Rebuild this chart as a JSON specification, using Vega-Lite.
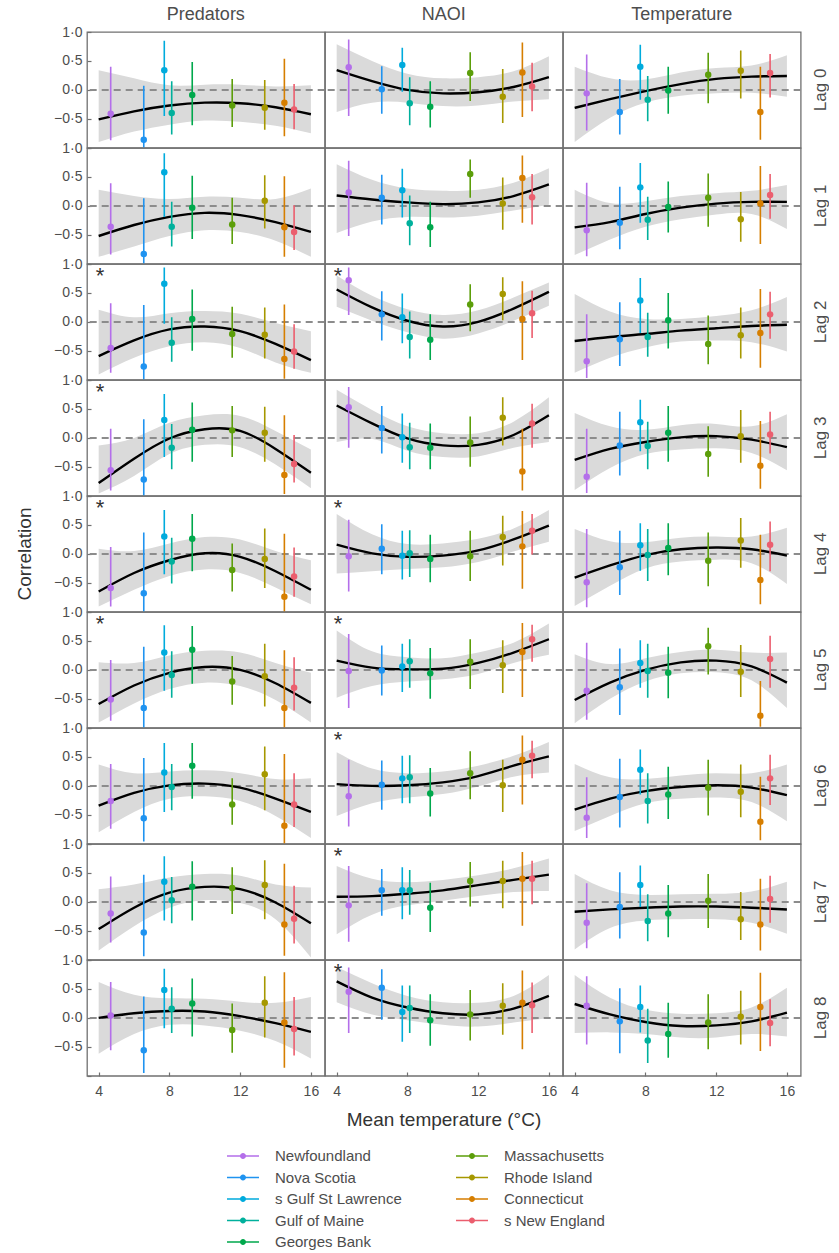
{
  "$schema": "https://vega.github.io/schema/vega-lite/v6.json",
  "padding": {"left": 15, "top": 6, "right": 0, "bottom": 0},
  "bounds": "flush",
  "data": {
    "values": [
      {"kind":"star","var":"Predators","lag":"Lag 2"},
      {"kind":"star","var":"Predators","lag":"Lag 3"},
      {"kind":"star","var":"Predators","lag":"Lag 4"},
      {"kind":"star","var":"Predators","lag":"Lag 5"},
      {"kind":"star","var":"NAOI","lag":"Lag 2"},
      {"kind":"star","var":"NAOI","lag":"Lag 4"},
      {"kind":"star","var":"NAOI","lag":"Lag 5"},
      {"kind":"star","var":"NAOI","lag":"Lag 6"},
      {"kind":"star","var":"NAOI","lag":"Lag 7"},
      {"kind":"star","var":"NAOI","lag":"Lag 8"},

      {"kind":"fit","var":"Predators","lag":"Lag 0","temp":4,"fit":-0.51,"flo":-0.90,"fhi":0.34},
      {"kind":"fit","var":"Predators","lag":"Lag 0","temp":6,"fit":-0.37,"flo":-0.72,"fhi":0.20},
      {"kind":"fit","var":"Predators","lag":"Lag 0","temp":8,"fit":-0.27,"flo":-0.60,"fhi":0.08},
      {"kind":"fit","var":"Predators","lag":"Lag 0","temp":10,"fit":-0.22,"flo":-0.53,"fhi":0.09},
      {"kind":"fit","var":"Predators","lag":"Lag 0","temp":12,"fit":-0.23,"flo":-0.55,"fhi":0.09},
      {"kind":"fit","var":"Predators","lag":"Lag 0","temp":14,"fit":-0.30,"flo":-0.62,"fhi":0.06},
      {"kind":"fit","var":"Predators","lag":"Lag 0","temp":16,"fit":-0.42,"flo":-0.75,"fhi":0.08},
      {"kind":"fit","var":"NAOI","lag":"Lag 0","temp":4,"fit":0.34,"flo":-0.38,"fhi":0.79},
      {"kind":"fit","var":"NAOI","lag":"Lag 0","temp":6,"fit":0.15,"flo":-0.22,"fhi":0.50},
      {"kind":"fit","var":"NAOI","lag":"Lag 0","temp":8,"fit":0.0,"flo":-0.22,"fhi":0.28},
      {"kind":"fit","var":"NAOI","lag":"Lag 0","temp":10,"fit":-0.06,"flo":-0.28,"fhi":0.20},
      {"kind":"fit","var":"NAOI","lag":"Lag 0","temp":12,"fit":-0.04,"flo":-0.27,"fhi":0.22},
      {"kind":"fit","var":"NAOI","lag":"Lag 0","temp":14,"fit":0.05,"flo":-0.20,"fhi":0.32},
      {"kind":"fit","var":"NAOI","lag":"Lag 0","temp":16,"fit":0.22,"flo":-0.16,"fhi":0.58},
      {"kind":"fit","var":"Temperature","lag":"Lag 0","temp":4,"fit":-0.31,"flo":-0.90,"fhi":0.40},
      {"kind":"fit","var":"Temperature","lag":"Lag 0","temp":6,"fit":-0.16,"flo":-0.48,"fhi":0.20},
      {"kind":"fit","var":"Temperature","lag":"Lag 0","temp":8,"fit":-0.02,"flo":-0.22,"fhi":0.18},
      {"kind":"fit","var":"Temperature","lag":"Lag 0","temp":10,"fit":0.10,"flo":-0.10,"fhi":0.30},
      {"kind":"fit","var":"Temperature","lag":"Lag 0","temp":12,"fit":0.19,"flo":-0.06,"fhi":0.38},
      {"kind":"fit","var":"Temperature","lag":"Lag 0","temp":14,"fit":0.23,"flo":-0.05,"fhi":0.42},
      {"kind":"fit","var":"Temperature","lag":"Lag 0","temp":16,"fit":0.24,"flo":-0.12,"fhi":0.60},

      {"kind":"fit","var":"Predators","lag":"Lag 1","temp":4,"fit":-0.52,"flo":-0.88,"fhi":0.28},
      {"kind":"fit","var":"Predators","lag":"Lag 1","temp":6,"fit":-0.33,"flo":-0.70,"fhi":0.17},
      {"kind":"fit","var":"Predators","lag":"Lag 1","temp":8,"fit":-0.19,"flo":-0.52,"fhi":0.12},
      {"kind":"fit","var":"Predators","lag":"Lag 1","temp":10,"fit":-0.12,"flo":-0.42,"fhi":0.16},
      {"kind":"fit","var":"Predators","lag":"Lag 1","temp":12,"fit":-0.16,"flo":-0.45,"fhi":0.14},
      {"kind":"fit","var":"Predators","lag":"Lag 1","temp":14,"fit":-0.28,"flo":-0.60,"fhi":0.12},
      {"kind":"fit","var":"Predators","lag":"Lag 1","temp":16,"fit":-0.45,"flo":-0.88,"fhi":0.30},
      {"kind":"fit","var":"NAOI","lag":"Lag 1","temp":4,"fit":0.18,"flo":-0.47,"fhi":0.72},
      {"kind":"fit","var":"NAOI","lag":"Lag 1","temp":6,"fit":0.11,"flo":-0.27,"fhi":0.45},
      {"kind":"fit","var":"NAOI","lag":"Lag 1","temp":8,"fit":0.06,"flo":-0.19,"fhi":0.30},
      {"kind":"fit","var":"NAOI","lag":"Lag 1","temp":10,"fit":0.03,"flo":-0.20,"fhi":0.26},
      {"kind":"fit","var":"NAOI","lag":"Lag 1","temp":12,"fit":0.06,"flo":-0.17,"fhi":0.28},
      {"kind":"fit","var":"NAOI","lag":"Lag 1","temp":14,"fit":0.17,"flo":-0.08,"fhi":0.40},
      {"kind":"fit","var":"NAOI","lag":"Lag 1","temp":16,"fit":0.37,"flo":0.02,"fhi":0.65},
      {"kind":"fit","var":"Temperature","lag":"Lag 1","temp":4,"fit":-0.37,"flo":-0.85,"fhi":0.28},
      {"kind":"fit","var":"Temperature","lag":"Lag 1","temp":6,"fit":-0.28,"flo":-0.58,"fhi":0.05},
      {"kind":"fit","var":"Temperature","lag":"Lag 1","temp":8,"fit":-0.14,"flo":-0.36,"fhi":0.08},
      {"kind":"fit","var":"Temperature","lag":"Lag 1","temp":10,"fit":-0.03,"flo":-0.23,"fhi":0.17},
      {"kind":"fit","var":"Temperature","lag":"Lag 1","temp":12,"fit":0.04,"flo":-0.15,"fhi":0.22},
      {"kind":"fit","var":"Temperature","lag":"Lag 1","temp":14,"fit":0.07,"flo":-0.14,"fhi":0.26},
      {"kind":"fit","var":"Temperature","lag":"Lag 1","temp":16,"fit":0.07,"flo":-0.40,"fhi":0.36},

      {"kind":"fit","var":"Predators","lag":"Lag 2","temp":4,"fit":-0.59,"flo":-0.91,"fhi":0.21},
      {"kind":"fit","var":"Predators","lag":"Lag 2","temp":6,"fit":-0.32,"flo":-0.62,"fhi":0.08},
      {"kind":"fit","var":"Predators","lag":"Lag 2","temp":8,"fit":-0.13,"flo":-0.42,"fhi":0.15},
      {"kind":"fit","var":"Predators","lag":"Lag 2","temp":10,"fit":-0.08,"flo":-0.35,"fhi":0.19},
      {"kind":"fit","var":"Predators","lag":"Lag 2","temp":12,"fit":-0.16,"flo":-0.45,"fhi":0.14},
      {"kind":"fit","var":"Predators","lag":"Lag 2","temp":14,"fit":-0.38,"flo":-0.70,"fhi":-0.02},
      {"kind":"fit","var":"Predators","lag":"Lag 2","temp":16,"fit":-0.66,"flo":-0.88,"fhi":-0.16},
      {"kind":"fit","var":"NAOI","lag":"Lag 2","temp":4,"fit":0.56,"flo":0.26,"fhi":0.80},
      {"kind":"fit","var":"NAOI","lag":"Lag 2","temp":6,"fit":0.25,"flo":0.02,"fhi":0.45},
      {"kind":"fit","var":"NAOI","lag":"Lag 2","temp":8,"fit":0.02,"flo":-0.18,"fhi":0.22},
      {"kind":"fit","var":"NAOI","lag":"Lag 2","temp":10,"fit":-0.08,"flo":-0.29,"fhi":0.12},
      {"kind":"fit","var":"NAOI","lag":"Lag 2","temp":12,"fit":0.0,"flo":-0.20,"fhi":0.20},
      {"kind":"fit","var":"NAOI","lag":"Lag 2","temp":14,"fit":0.23,"flo":0.02,"fhi":0.42},
      {"kind":"fit","var":"NAOI","lag":"Lag 2","temp":16,"fit":0.52,"flo":0.28,"fhi":0.68},
      {"kind":"fit","var":"Temperature","lag":"Lag 2","temp":4,"fit":-0.33,"flo":-0.88,"fhi":0.48},
      {"kind":"fit","var":"Temperature","lag":"Lag 2","temp":6,"fit":-0.26,"flo":-0.62,"fhi":0.18},
      {"kind":"fit","var":"Temperature","lag":"Lag 2","temp":8,"fit":-0.21,"flo":-0.44,"fhi":0.05},
      {"kind":"fit","var":"Temperature","lag":"Lag 2","temp":10,"fit":-0.15,"flo":-0.34,"fhi":0.05},
      {"kind":"fit","var":"Temperature","lag":"Lag 2","temp":12,"fit":-0.11,"flo":-0.32,"fhi":0.10},
      {"kind":"fit","var":"Temperature","lag":"Lag 2","temp":14,"fit":-0.07,"flo":-0.35,"fhi":0.20},
      {"kind":"fit","var":"Temperature","lag":"Lag 2","temp":16,"fit":-0.05,"flo":-0.51,"fhi":0.43},

      {"kind":"fit","var":"Predators","lag":"Lag 3","temp":4,"fit":-0.78,"flo":-0.96,"fhi":-0.13},
      {"kind":"fit","var":"Predators","lag":"Lag 3","temp":6,"fit":-0.36,"flo":-0.66,"fhi":0.0},
      {"kind":"fit","var":"Predators","lag":"Lag 3","temp":8,"fit":-0.01,"flo":-0.28,"fhi":0.26},
      {"kind":"fit","var":"Predators","lag":"Lag 3","temp":10,"fit":0.15,"flo":-0.12,"fhi":0.39},
      {"kind":"fit","var":"Predators","lag":"Lag 3","temp":12,"fit":0.12,"flo":-0.16,"fhi":0.38},
      {"kind":"fit","var":"Predators","lag":"Lag 3","temp":14,"fit":-0.19,"flo":-0.46,"fhi":0.12},
      {"kind":"fit","var":"Predators","lag":"Lag 3","temp":16,"fit":-0.60,"flo":-0.87,"fhi":-0.20},
      {"kind":"fit","var":"NAOI","lag":"Lag 3","temp":4,"fit":0.56,"flo":-0.07,"fhi":0.83},
      {"kind":"fit","var":"NAOI","lag":"Lag 3","temp":6,"fit":0.25,"flo":-0.02,"fhi":0.48},
      {"kind":"fit","var":"NAOI","lag":"Lag 3","temp":8,"fit":-0.01,"flo":-0.22,"fhi":0.20},
      {"kind":"fit","var":"NAOI","lag":"Lag 3","temp":10,"fit":-0.13,"flo":-0.33,"fhi":0.08},
      {"kind":"fit","var":"NAOI","lag":"Lag 3","temp":12,"fit":-0.12,"flo":-0.32,"fhi":0.08},
      {"kind":"fit","var":"NAOI","lag":"Lag 3","temp":14,"fit":0.05,"flo":-0.17,"fhi":0.28},
      {"kind":"fit","var":"NAOI","lag":"Lag 3","temp":16,"fit":0.39,"flo":-0.07,"fhi":0.70},
      {"kind":"fit","var":"Temperature","lag":"Lag 3","temp":4,"fit":-0.38,"flo":-0.90,"fhi":0.43},
      {"kind":"fit","var":"Temperature","lag":"Lag 3","temp":6,"fit":-0.19,"flo":-0.52,"fhi":0.20},
      {"kind":"fit","var":"Temperature","lag":"Lag 3","temp":8,"fit":-0.07,"flo":-0.28,"fhi":0.14},
      {"kind":"fit","var":"Temperature","lag":"Lag 3","temp":10,"fit":0.01,"flo":-0.20,"fhi":0.22},
      {"kind":"fit","var":"Temperature","lag":"Lag 3","temp":12,"fit":0.03,"flo":-0.18,"fhi":0.24},
      {"kind":"fit","var":"Temperature","lag":"Lag 3","temp":14,"fit":-0.03,"flo":-0.26,"fhi":0.20},
      {"kind":"fit","var":"Temperature","lag":"Lag 3","temp":16,"fit":-0.16,"flo":-0.56,"fhi":0.41},

      {"kind":"fit","var":"Predators","lag":"Lag 4","temp":4,"fit":-0.65,"flo":-0.91,"fhi":0.09},
      {"kind":"fit","var":"Predators","lag":"Lag 4","temp":6,"fit":-0.33,"flo":-0.62,"fhi":0.05},
      {"kind":"fit","var":"Predators","lag":"Lag 4","temp":8,"fit":-0.11,"flo":-0.38,"fhi":0.18},
      {"kind":"fit","var":"Predators","lag":"Lag 4","temp":10,"fit":0.01,"flo":-0.27,"fhi":0.29},
      {"kind":"fit","var":"Predators","lag":"Lag 4","temp":12,"fit":-0.05,"flo":-0.33,"fhi":0.25},
      {"kind":"fit","var":"Predators","lag":"Lag 4","temp":14,"fit":-0.30,"flo":-0.58,"fhi":0.05},
      {"kind":"fit","var":"Predators","lag":"Lag 4","temp":16,"fit":-0.62,"flo":-0.87,"fhi":-0.11},
      {"kind":"fit","var":"NAOI","lag":"Lag 4","temp":4,"fit":0.16,"flo":-0.34,"fhi":0.69},
      {"kind":"fit","var":"NAOI","lag":"Lag 4","temp":6,"fit":0.01,"flo":-0.30,"fhi":0.34},
      {"kind":"fit","var":"NAOI","lag":"Lag 4","temp":8,"fit":-0.05,"flo":-0.26,"fhi":0.17},
      {"kind":"fit","var":"NAOI","lag":"Lag 4","temp":10,"fit":-0.03,"flo":-0.23,"fhi":0.18},
      {"kind":"fit","var":"NAOI","lag":"Lag 4","temp":12,"fit":0.06,"flo":-0.14,"fhi":0.26},
      {"kind":"fit","var":"NAOI","lag":"Lag 4","temp":14,"fit":0.25,"flo":0.04,"fhi":0.44},
      {"kind":"fit","var":"NAOI","lag":"Lag 4","temp":16,"fit":0.49,"flo":0.21,"fhi":0.76},
      {"kind":"fit","var":"Temperature","lag":"Lag 4","temp":4,"fit":-0.41,"flo":-0.90,"fhi":0.43},
      {"kind":"fit","var":"Temperature","lag":"Lag 4","temp":6,"fit":-0.20,"flo":-0.55,"fhi":0.22},
      {"kind":"fit","var":"Temperature","lag":"Lag 4","temp":8,"fit":-0.02,"flo":-0.25,"fhi":0.20},
      {"kind":"fit","var":"Temperature","lag":"Lag 4","temp":10,"fit":0.08,"flo":-0.13,"fhi":0.28},
      {"kind":"fit","var":"Temperature","lag":"Lag 4","temp":12,"fit":0.11,"flo":-0.10,"fhi":0.30},
      {"kind":"fit","var":"Temperature","lag":"Lag 4","temp":14,"fit":0.08,"flo":-0.16,"fhi":0.30},
      {"kind":"fit","var":"Temperature","lag":"Lag 4","temp":16,"fit":-0.03,"flo":-0.52,"fhi":0.45},

      {"kind":"fit","var":"Predators","lag":"Lag 5","temp":4,"fit":-0.59,"flo":-0.91,"fhi":0.13},
      {"kind":"fit","var":"Predators","lag":"Lag 5","temp":6,"fit":-0.27,"flo":-0.58,"fhi":0.12},
      {"kind":"fit","var":"Predators","lag":"Lag 5","temp":8,"fit":-0.05,"flo":-0.33,"fhi":0.25},
      {"kind":"fit","var":"Predators","lag":"Lag 5","temp":10,"fit":0.05,"flo":-0.22,"fhi":0.33},
      {"kind":"fit","var":"Predators","lag":"Lag 5","temp":12,"fit":0.0,"flo":-0.28,"fhi":0.30},
      {"kind":"fit","var":"Predators","lag":"Lag 5","temp":14,"fit":-0.23,"flo":-0.52,"fhi":0.12},
      {"kind":"fit","var":"Predators","lag":"Lag 5","temp":16,"fit":-0.57,"flo":-0.91,"fhi":-0.05},
      {"kind":"fit","var":"NAOI","lag":"Lag 5","temp":4,"fit":0.16,"flo":-0.48,"fhi":0.68},
      {"kind":"fit","var":"NAOI","lag":"Lag 5","temp":6,"fit":0.04,"flo":-0.28,"fhi":0.32},
      {"kind":"fit","var":"NAOI","lag":"Lag 5","temp":8,"fit":0.01,"flo":-0.20,"fhi":0.22},
      {"kind":"fit","var":"NAOI","lag":"Lag 5","temp":10,"fit":0.02,"flo":-0.16,"fhi":0.20},
      {"kind":"fit","var":"NAOI","lag":"Lag 5","temp":12,"fit":0.12,"flo":-0.07,"fhi":0.30},
      {"kind":"fit","var":"NAOI","lag":"Lag 5","temp":14,"fit":0.30,"flo":0.12,"fhi":0.47},
      {"kind":"fit","var":"NAOI","lag":"Lag 5","temp":16,"fit":0.53,"flo":0.26,"fhi":0.80},
      {"kind":"fit","var":"Temperature","lag":"Lag 5","temp":4,"fit":-0.52,"flo":-0.92,"fhi":0.27},
      {"kind":"fit","var":"Temperature","lag":"Lag 5","temp":6,"fit":-0.22,"flo":-0.50,"fhi":0.10},
      {"kind":"fit","var":"Temperature","lag":"Lag 5","temp":8,"fit":0.0,"flo":-0.20,"fhi":0.20},
      {"kind":"fit","var":"Temperature","lag":"Lag 5","temp":10,"fit":0.13,"flo":-0.06,"fhi":0.31},
      {"kind":"fit","var":"Temperature","lag":"Lag 5","temp":12,"fit":0.16,"flo":-0.04,"fhi":0.35},
      {"kind":"fit","var":"Temperature","lag":"Lag 5","temp":14,"fit":0.06,"flo":-0.18,"fhi":0.30},
      {"kind":"fit","var":"Temperature","lag":"Lag 5","temp":16,"fit":-0.22,"flo":-0.66,"fhi":0.30},

      {"kind":"fit","var":"Predators","lag":"Lag 6","temp":4,"fit":-0.34,"flo":-0.80,"fhi":0.37},
      {"kind":"fit","var":"Predators","lag":"Lag 6","temp":6,"fit":-0.12,"flo":-0.45,"fhi":0.22},
      {"kind":"fit","var":"Predators","lag":"Lag 6","temp":8,"fit":0.01,"flo":-0.22,"fhi":0.25},
      {"kind":"fit","var":"Predators","lag":"Lag 6","temp":10,"fit":0.04,"flo":-0.18,"fhi":0.27},
      {"kind":"fit","var":"Predators","lag":"Lag 6","temp":12,"fit":-0.03,"flo":-0.26,"fhi":0.22},
      {"kind":"fit","var":"Predators","lag":"Lag 6","temp":14,"fit":-0.22,"flo":-0.52,"fhi":0.12},
      {"kind":"fit","var":"Predators","lag":"Lag 6","temp":16,"fit":-0.45,"flo":-0.90,"fhi":0.13},
      {"kind":"fit","var":"NAOI","lag":"Lag 6","temp":4,"fit":0.03,"flo":-0.52,"fhi":0.58},
      {"kind":"fit","var":"NAOI","lag":"Lag 6","temp":6,"fit":0.0,"flo":-0.30,"fhi":0.30},
      {"kind":"fit","var":"NAOI","lag":"Lag 6","temp":8,"fit":0.01,"flo":-0.20,"fhi":0.22},
      {"kind":"fit","var":"NAOI","lag":"Lag 6","temp":10,"fit":0.06,"flo":-0.14,"fhi":0.25},
      {"kind":"fit","var":"NAOI","lag":"Lag 6","temp":12,"fit":0.17,"flo":-0.01,"fhi":0.35},
      {"kind":"fit","var":"NAOI","lag":"Lag 6","temp":14,"fit":0.35,"flo":0.16,"fhi":0.52},
      {"kind":"fit","var":"NAOI","lag":"Lag 6","temp":16,"fit":0.51,"flo":0.23,"fhi":0.76},
      {"kind":"fit","var":"Temperature","lag":"Lag 6","temp":4,"fit":-0.41,"flo":-0.78,"fhi":0.38},
      {"kind":"fit","var":"Temperature","lag":"Lag 6","temp":6,"fit":-0.22,"flo":-0.52,"fhi":0.15},
      {"kind":"fit","var":"Temperature","lag":"Lag 6","temp":8,"fit":-0.09,"flo":-0.30,"fhi":0.12},
      {"kind":"fit","var":"Temperature","lag":"Lag 6","temp":10,"fit":-0.02,"flo":-0.22,"fhi":0.18},
      {"kind":"fit","var":"Temperature","lag":"Lag 6","temp":12,"fit":0.01,"flo":-0.20,"fhi":0.22},
      {"kind":"fit","var":"Temperature","lag":"Lag 6","temp":14,"fit":-0.03,"flo":-0.28,"fhi":0.22},
      {"kind":"fit","var":"Temperature","lag":"Lag 6","temp":16,"fit":-0.16,"flo":-0.61,"fhi":0.37},

      {"kind":"fit","var":"Predators","lag":"Lag 7","temp":4,"fit":-0.47,"flo":-0.84,"fhi":0.22},
      {"kind":"fit","var":"Predators","lag":"Lag 7","temp":6,"fit":-0.10,"flo":-0.42,"fhi":0.30},
      {"kind":"fit","var":"Predators","lag":"Lag 7","temp":8,"fit":0.16,"flo":-0.10,"fhi":0.42},
      {"kind":"fit","var":"Predators","lag":"Lag 7","temp":10,"fit":0.26,"flo":0.03,"fhi":0.48},
      {"kind":"fit","var":"Predators","lag":"Lag 7","temp":12,"fit":0.22,"flo":-0.02,"fhi":0.45},
      {"kind":"fit","var":"Predators","lag":"Lag 7","temp":14,"fit":-0.01,"flo":-0.30,"fhi":0.30},
      {"kind":"fit","var":"Predators","lag":"Lag 7","temp":16,"fit":-0.37,"flo":-0.96,"fhi":0.25},
      {"kind":"fit","var":"NAOI","lag":"Lag 7","temp":4,"fit":0.09,"flo":-0.56,"fhi":0.62},
      {"kind":"fit","var":"NAOI","lag":"Lag 7","temp":6,"fit":0.10,"flo":-0.22,"fhi":0.40},
      {"kind":"fit","var":"NAOI","lag":"Lag 7","temp":8,"fit":0.14,"flo":-0.06,"fhi":0.34},
      {"kind":"fit","var":"NAOI","lag":"Lag 7","temp":10,"fit":0.20,"flo":0.02,"fhi":0.38},
      {"kind":"fit","var":"NAOI","lag":"Lag 7","temp":12,"fit":0.29,"flo":0.10,"fhi":0.46},
      {"kind":"fit","var":"NAOI","lag":"Lag 7","temp":14,"fit":0.38,"flo":0.17,"fhi":0.58},
      {"kind":"fit","var":"NAOI","lag":"Lag 7","temp":16,"fit":0.47,"flo":0.19,"fhi":0.75},
      {"kind":"fit","var":"Temperature","lag":"Lag 7","temp":4,"fit":-0.17,"flo":-0.82,"fhi":0.48},
      {"kind":"fit","var":"Temperature","lag":"Lag 7","temp":6,"fit":-0.13,"flo":-0.45,"fhi":0.20},
      {"kind":"fit","var":"Temperature","lag":"Lag 7","temp":8,"fit":-0.10,"flo":-0.32,"fhi":0.12},
      {"kind":"fit","var":"Temperature","lag":"Lag 7","temp":10,"fit":-0.08,"flo":-0.30,"fhi":0.13},
      {"kind":"fit","var":"Temperature","lag":"Lag 7","temp":12,"fit":-0.08,"flo":-0.30,"fhi":0.14},
      {"kind":"fit","var":"Temperature","lag":"Lag 7","temp":14,"fit":-0.10,"flo":-0.36,"fhi":0.18},
      {"kind":"fit","var":"Temperature","lag":"Lag 7","temp":16,"fit":-0.13,"flo":-0.55,"fhi":0.35},

      {"kind":"fit","var":"Predators","lag":"Lag 8","temp":4,"fit":0.0,"flo":-0.62,"fhi":0.62},
      {"kind":"fit","var":"Predators","lag":"Lag 8","temp":6,"fit":0.08,"flo":-0.28,"fhi":0.40},
      {"kind":"fit","var":"Predators","lag":"Lag 8","temp":8,"fit":0.12,"flo":-0.12,"fhi":0.34},
      {"kind":"fit","var":"Predators","lag":"Lag 8","temp":10,"fit":0.11,"flo":-0.13,"fhi":0.33},
      {"kind":"fit","var":"Predators","lag":"Lag 8","temp":12,"fit":0.03,"flo":-0.22,"fhi":0.28},
      {"kind":"fit","var":"Predators","lag":"Lag 8","temp":14,"fit":-0.09,"flo":-0.40,"fhi":0.26},
      {"kind":"fit","var":"Predators","lag":"Lag 8","temp":16,"fit":-0.24,"flo":-0.70,"fhi":0.36},
      {"kind":"fit","var":"NAOI","lag":"Lag 8","temp":4,"fit":0.63,"flo":0.27,"fhi":0.88},
      {"kind":"fit","var":"NAOI","lag":"Lag 8","temp":6,"fit":0.35,"flo":0.06,"fhi":0.60},
      {"kind":"fit","var":"NAOI","lag":"Lag 8","temp":8,"fit":0.18,"flo":-0.04,"fhi":0.38},
      {"kind":"fit","var":"NAOI","lag":"Lag 8","temp":10,"fit":0.08,"flo":-0.12,"fhi":0.27},
      {"kind":"fit","var":"NAOI","lag":"Lag 8","temp":12,"fit":0.06,"flo":-0.15,"fhi":0.26},
      {"kind":"fit","var":"NAOI","lag":"Lag 8","temp":14,"fit":0.16,"flo":-0.08,"fhi":0.38},
      {"kind":"fit","var":"NAOI","lag":"Lag 8","temp":16,"fit":0.38,"flo":0.0,"fhi":0.74},
      {"kind":"fit","var":"Temperature","lag":"Lag 8","temp":4,"fit":0.24,"flo":-0.26,"fhi":0.74},
      {"kind":"fit","var":"Temperature","lag":"Lag 8","temp":6,"fit":0.06,"flo":-0.25,"fhi":0.35},
      {"kind":"fit","var":"Temperature","lag":"Lag 8","temp":8,"fit":-0.07,"flo":-0.28,"fhi":0.14},
      {"kind":"fit","var":"Temperature","lag":"Lag 8","temp":10,"fit":-0.14,"flo":-0.34,"fhi":0.07},
      {"kind":"fit","var":"Temperature","lag":"Lag 8","temp":12,"fit":-0.13,"flo":-0.34,"fhi":0.08},
      {"kind":"fit","var":"Temperature","lag":"Lag 8","temp":14,"fit":-0.06,"flo":-0.28,"fhi":0.18},
      {"kind":"fit","var":"Temperature","lag":"Lag 8","temp":16,"fit":0.09,"flo":-0.32,"fhi":0.52},

      {"kind":"pt","var":"Predators","lag":"Lag 0","region":"Newfoundland","temp":4.68,"r":-0.41,"lo":-0.87,"hi":0.40},
      {"kind":"pt","var":"Predators","lag":"Lag 0","region":"Nova Scotia","temp":6.55,"r":-0.86,"lo":-1.0,"hi":0.07},
      {"kind":"pt","var":"Predators","lag":"Lag 0","region":"s Gulf St Lawrence","temp":7.71,"r":0.34,"lo":-0.45,"hi":0.85},
      {"kind":"pt","var":"Predators","lag":"Lag 0","region":"Gulf of Maine","temp":8.13,"r":-0.40,"lo":-0.77,"hi":0.15},
      {"kind":"pt","var":"Predators","lag":"Lag 0","region":"Georges Bank","temp":9.29,"r":-0.09,"lo":-0.61,"hi":0.48},
      {"kind":"pt","var":"Predators","lag":"Lag 0","region":"Massachusetts","temp":11.55,"r":-0.27,"lo":-0.64,"hi":0.19},
      {"kind":"pt","var":"Predators","lag":"Lag 0","region":"Rhode Island","temp":13.39,"r":-0.31,"lo":-0.69,"hi":0.17},
      {"kind":"pt","var":"Predators","lag":"Lag 0","region":"Connecticut","temp":14.5,"r":-0.22,"lo":-0.80,"hi":0.54},
      {"kind":"pt","var":"Predators","lag":"Lag 0","region":"s New England","temp":15.05,"r":-0.34,"lo":-0.68,"hi":0.10},
      {"kind":"pt","var":"NAOI","lag":"Lag 0","region":"Newfoundland","temp":4.68,"r":0.39,"lo":-0.45,"hi":0.87},
      {"kind":"pt","var":"NAOI","lag":"Lag 0","region":"Nova Scotia","temp":6.55,"r":0.01,"lo":-0.41,"hi":0.41},
      {"kind":"pt","var":"NAOI","lag":"Lag 0","region":"s Gulf St Lawrence","temp":7.71,"r":0.43,"lo":-0.03,"hi":0.73},
      {"kind":"pt","var":"NAOI","lag":"Lag 0","region":"Gulf of Maine","temp":8.13,"r":-0.23,"lo":-0.61,"hi":0.22},
      {"kind":"pt","var":"NAOI","lag":"Lag 0","region":"Georges Bank","temp":9.29,"r":-0.29,"lo":-0.65,"hi":0.15},
      {"kind":"pt","var":"NAOI","lag":"Lag 0","region":"Massachusetts","temp":11.55,"r":0.29,"lo":-0.19,"hi":0.65},
      {"kind":"pt","var":"NAOI","lag":"Lag 0","region":"Rhode Island","temp":13.39,"r":-0.12,"lo":-0.57,"hi":0.36},
      {"kind":"pt","var":"NAOI","lag":"Lag 0","region":"Connecticut","temp":14.5,"r":0.30,"lo":-0.47,"hi":0.82},
      {"kind":"pt","var":"NAOI","lag":"Lag 0","region":"s New England","temp":15.05,"r":0.06,"lo":-0.37,"hi":0.47},
      {"kind":"pt","var":"Temperature","lag":"Lag 0","region":"Newfoundland","temp":4.68,"r":-0.06,"lo":-0.70,"hi":0.61},
      {"kind":"pt","var":"Temperature","lag":"Lag 0","region":"Nova Scotia","temp":6.55,"r":-0.38,"lo":-0.77,"hi":0.19},
      {"kind":"pt","var":"Temperature","lag":"Lag 0","region":"s Gulf St Lawrence","temp":7.71,"r":0.40,"lo":-0.17,"hi":0.78},
      {"kind":"pt","var":"Temperature","lag":"Lag 0","region":"Gulf of Maine","temp":8.13,"r":-0.17,"lo":-0.54,"hi":0.24},
      {"kind":"pt","var":"Temperature","lag":"Lag 0","region":"Georges Bank","temp":9.29,"r":-0.01,"lo":-0.41,"hi":0.40},
      {"kind":"pt","var":"Temperature","lag":"Lag 0","region":"Massachusetts","temp":11.55,"r":0.26,"lo":-0.23,"hi":0.64},
      {"kind":"pt","var":"Temperature","lag":"Lag 0","region":"Rhode Island","temp":13.39,"r":0.33,"lo":-0.15,"hi":0.68},
      {"kind":"pt","var":"Temperature","lag":"Lag 0","region":"Connecticut","temp":14.5,"r":-0.38,"lo":-0.86,"hi":0.40},
      {"kind":"pt","var":"Temperature","lag":"Lag 0","region":"s New England","temp":15.05,"r":0.29,"lo":-0.13,"hi":0.62},

      {"kind":"pt","var":"Predators","lag":"Lag 1","region":"Newfoundland","temp":4.68,"r":-0.36,"lo":-0.84,"hi":0.39},
      {"kind":"pt","var":"Predators","lag":"Lag 1","region":"Nova Scotia","temp":6.55,"r":-0.83,"lo":-1.0,"hi":0.13},
      {"kind":"pt","var":"Predators","lag":"Lag 1","region":"s Gulf St Lawrence","temp":7.71,"r":0.58,"lo":-0.19,"hi":0.91},
      {"kind":"pt","var":"Predators","lag":"Lag 1","region":"Gulf of Maine","temp":8.13,"r":-0.36,"lo":-0.70,"hi":0.07},
      {"kind":"pt","var":"Predators","lag":"Lag 1","region":"Georges Bank","temp":9.29,"r":-0.03,"lo":-0.57,"hi":0.52},
      {"kind":"pt","var":"Predators","lag":"Lag 1","region":"Massachusetts","temp":11.55,"r":-0.32,"lo":-0.66,"hi":0.14},
      {"kind":"pt","var":"Predators","lag":"Lag 1","region":"Rhode Island","temp":13.39,"r":0.09,"lo":-0.39,"hi":0.53},
      {"kind":"pt","var":"Predators","lag":"Lag 1","region":"Connecticut","temp":14.5,"r":-0.37,"lo":-0.88,"hi":0.51},
      {"kind":"pt","var":"Predators","lag":"Lag 1","region":"s New England","temp":15.05,"r":-0.45,"lo":-0.76,"hi":0.01},
      {"kind":"pt","var":"NAOI","lag":"Lag 1","region":"Newfoundland","temp":4.68,"r":0.23,"lo":-0.52,"hi":0.78},
      {"kind":"pt","var":"NAOI","lag":"Lag 1","region":"Nova Scotia","temp":6.55,"r":0.14,"lo":-0.32,"hi":0.54},
      {"kind":"pt","var":"NAOI","lag":"Lag 1","region":"s Gulf St Lawrence","temp":7.71,"r":0.27,"lo":-0.20,"hi":0.64},
      {"kind":"pt","var":"NAOI","lag":"Lag 1","region":"Gulf of Maine","temp":8.13,"r":-0.30,"lo":-0.68,"hi":0.18},
      {"kind":"pt","var":"NAOI","lag":"Lag 1","region":"Georges Bank","temp":9.29,"r":-0.37,"lo":-0.71,"hi":0.07},
      {"kind":"pt","var":"NAOI","lag":"Lag 1","region":"Massachusetts","temp":11.55,"r":0.55,"lo":0.14,"hi":0.80},
      {"kind":"pt","var":"NAOI","lag":"Lag 1","region":"Rhode Island","temp":13.39,"r":0.04,"lo":-0.41,"hi":0.49},
      {"kind":"pt","var":"NAOI","lag":"Lag 1","region":"Connecticut","temp":14.5,"r":0.48,"lo":-0.29,"hi":0.87},
      {"kind":"pt","var":"NAOI","lag":"Lag 1","region":"s New England","temp":15.05,"r":0.15,"lo":-0.32,"hi":0.55},
      {"kind":"pt","var":"Temperature","lag":"Lag 1","region":"Newfoundland","temp":4.68,"r":-0.42,"lo":-0.87,"hi":0.40},
      {"kind":"pt","var":"Temperature","lag":"Lag 1","region":"Nova Scotia","temp":6.55,"r":-0.29,"lo":-0.75,"hi":0.33},
      {"kind":"pt","var":"Temperature","lag":"Lag 1","region":"s Gulf St Lawrence","temp":7.71,"r":0.32,"lo":-0.29,"hi":0.74},
      {"kind":"pt","var":"Temperature","lag":"Lag 1","region":"Gulf of Maine","temp":8.13,"r":-0.24,"lo":-0.59,"hi":0.16},
      {"kind":"pt","var":"Temperature","lag":"Lag 1","region":"Georges Bank","temp":9.29,"r":-0.02,"lo":-0.46,"hi":0.42},
      {"kind":"pt","var":"Temperature","lag":"Lag 1","region":"Massachusetts","temp":11.55,"r":0.14,"lo":-0.36,"hi":0.56},
      {"kind":"pt","var":"Temperature","lag":"Lag 1","region":"Rhode Island","temp":13.39,"r":-0.23,"lo":-0.62,"hi":0.24},
      {"kind":"pt","var":"Temperature","lag":"Lag 1","region":"Connecticut","temp":14.5,"r":0.04,"lo":-0.66,"hi":0.69},
      {"kind":"pt","var":"Temperature","lag":"Lag 1","region":"s New England","temp":15.05,"r":0.19,"lo":-0.22,"hi":0.55},

      {"kind":"pt","var":"Predators","lag":"Lag 2","region":"Newfoundland","temp":4.68,"r":-0.45,"lo":-0.88,"hi":0.32},
      {"kind":"pt","var":"Predators","lag":"Lag 2","region":"Nova Scotia","temp":6.55,"r":-0.77,"lo":-1.0,"hi":0.29},
      {"kind":"pt","var":"Predators","lag":"Lag 2","region":"s Gulf St Lawrence","temp":7.71,"r":0.66,"lo":-0.03,"hi":0.94},
      {"kind":"pt","var":"Predators","lag":"Lag 2","region":"Gulf of Maine","temp":8.13,"r":-0.36,"lo":-0.69,"hi":0.08},
      {"kind":"pt","var":"Predators","lag":"Lag 2","region":"Georges Bank","temp":9.29,"r":0.05,"lo":-0.50,"hi":0.56},
      {"kind":"pt","var":"Predators","lag":"Lag 2","region":"Massachusetts","temp":11.55,"r":-0.21,"lo":-0.62,"hi":0.26},
      {"kind":"pt","var":"Predators","lag":"Lag 2","region":"Rhode Island","temp":13.39,"r":-0.22,"lo":-0.63,"hi":0.25},
      {"kind":"pt","var":"Predators","lag":"Lag 2","region":"Connecticut","temp":14.5,"r":-0.64,"lo":-0.98,"hi":0.30},
      {"kind":"pt","var":"Predators","lag":"Lag 2","region":"s New England","temp":15.05,"r":-0.51,"lo":-0.81,"hi":-0.04},
      {"kind":"pt","var":"NAOI","lag":"Lag 2","region":"Newfoundland","temp":4.68,"r":0.72,"lo":0.12,"hi":0.94},
      {"kind":"pt","var":"NAOI","lag":"Lag 2","region":"Nova Scotia","temp":6.55,"r":0.13,"lo":-0.32,"hi":0.53},
      {"kind":"pt","var":"NAOI","lag":"Lag 2","region":"s Gulf St Lawrence","temp":7.71,"r":0.08,"lo":-0.37,"hi":0.49},
      {"kind":"pt","var":"NAOI","lag":"Lag 2","region":"Gulf of Maine","temp":8.13,"r":-0.26,"lo":-0.63,"hi":0.18},
      {"kind":"pt","var":"NAOI","lag":"Lag 2","region":"Georges Bank","temp":9.29,"r":-0.31,"lo":-0.66,"hi":0.13},
      {"kind":"pt","var":"NAOI","lag":"Lag 2","region":"Massachusetts","temp":11.55,"r":0.30,"lo":-0.16,"hi":0.65},
      {"kind":"pt","var":"NAOI","lag":"Lag 2","region":"Rhode Island","temp":13.39,"r":0.48,"lo":0.03,"hi":0.77},
      {"kind":"pt","var":"NAOI","lag":"Lag 2","region":"Connecticut","temp":14.5,"r":0.05,"lo":-0.66,"hi":0.70},
      {"kind":"pt","var":"NAOI","lag":"Lag 2","region":"s New England","temp":15.05,"r":0.15,"lo":-0.28,"hi":0.54},
      {"kind":"pt","var":"Temperature","lag":"Lag 2","region":"Newfoundland","temp":4.68,"r":-0.68,"lo":-0.97,"hi":0.13},
      {"kind":"pt","var":"Temperature","lag":"Lag 2","region":"Nova Scotia","temp":6.55,"r":-0.30,"lo":-0.76,"hi":0.34},
      {"kind":"pt","var":"Temperature","lag":"Lag 2","region":"s Gulf St Lawrence","temp":7.71,"r":0.37,"lo":-0.19,"hi":0.76},
      {"kind":"pt","var":"Temperature","lag":"Lag 2","region":"Gulf of Maine","temp":8.13,"r":-0.26,"lo":-0.60,"hi":0.16},
      {"kind":"pt","var":"Temperature","lag":"Lag 2","region":"Georges Bank","temp":9.29,"r":0.03,"lo":-0.46,"hi":0.50},
      {"kind":"pt","var":"Temperature","lag":"Lag 2","region":"Massachusetts","temp":11.55,"r":-0.38,"lo":-0.73,"hi":0.11},
      {"kind":"pt","var":"Temperature","lag":"Lag 2","region":"Rhode Island","temp":13.39,"r":-0.23,"lo":-0.63,"hi":0.25},
      {"kind":"pt","var":"Temperature","lag":"Lag 2","region":"Connecticut","temp":14.5,"r":-0.19,"lo":-0.79,"hi":0.57},
      {"kind":"pt","var":"Temperature","lag":"Lag 2","region":"s New England","temp":15.05,"r":0.13,"lo":-0.29,"hi":0.52},

      {"kind":"pt","var":"Predators","lag":"Lag 3","region":"Newfoundland","temp":4.68,"r":-0.56,"lo":-0.91,"hi":0.16},
      {"kind":"pt","var":"Predators","lag":"Lag 3","region":"Nova Scotia","temp":6.55,"r":-0.72,"lo":-1.0,"hi":0.32},
      {"kind":"pt","var":"Predators","lag":"Lag 3","region":"s Gulf St Lawrence","temp":7.71,"r":0.31,"lo":-0.33,"hi":0.76},
      {"kind":"pt","var":"Predators","lag":"Lag 3","region":"Gulf of Maine","temp":8.13,"r":-0.17,"lo":-0.54,"hi":0.24},
      {"kind":"pt","var":"Predators","lag":"Lag 3","region":"Georges Bank","temp":9.29,"r":0.14,"lo":-0.41,"hi":0.61},
      {"kind":"pt","var":"Predators","lag":"Lag 3","region":"Massachusetts","temp":11.55,"r":0.13,"lo":-0.33,"hi":0.55},
      {"kind":"pt","var":"Predators","lag":"Lag 3","region":"Rhode Island","temp":13.39,"r":0.09,"lo":-0.41,"hi":0.54},
      {"kind":"pt","var":"Predators","lag":"Lag 3","region":"Connecticut","temp":14.5,"r":-0.64,"lo":-0.97,"hi":0.39},
      {"kind":"pt","var":"Predators","lag":"Lag 3","region":"s New England","temp":15.05,"r":-0.45,"lo":-0.77,"hi":0.05},
      {"kind":"pt","var":"NAOI","lag":"Lag 3","region":"Newfoundland","temp":4.68,"r":0.53,"lo":-0.17,"hi":0.88},
      {"kind":"pt","var":"NAOI","lag":"Lag 3","region":"Nova Scotia","temp":6.55,"r":0.17,"lo":-0.27,"hi":0.55},
      {"kind":"pt","var":"NAOI","lag":"Lag 3","region":"s Gulf St Lawrence","temp":7.71,"r":0.01,"lo":-0.43,"hi":0.42},
      {"kind":"pt","var":"NAOI","lag":"Lag 3","region":"Gulf of Maine","temp":8.13,"r":-0.16,"lo":-0.54,"hi":0.26},
      {"kind":"pt","var":"NAOI","lag":"Lag 3","region":"Georges Bank","temp":9.29,"r":-0.17,"lo":-0.54,"hi":0.25},
      {"kind":"pt","var":"NAOI","lag":"Lag 3","region":"Massachusetts","temp":11.55,"r":-0.08,"lo":-0.50,"hi":0.37},
      {"kind":"pt","var":"NAOI","lag":"Lag 3","region":"Rhode Island","temp":13.39,"r":0.35,"lo":-0.13,"hi":0.70},
      {"kind":"pt","var":"NAOI","lag":"Lag 3","region":"Connecticut","temp":14.5,"r":-0.58,"lo":-0.91,"hi":0.16},
      {"kind":"pt","var":"NAOI","lag":"Lag 3","region":"s New England","temp":15.05,"r":0.25,"lo":-0.17,"hi":0.59},
      {"kind":"pt","var":"Temperature","lag":"Lag 3","region":"Newfoundland","temp":4.68,"r":-0.67,"lo":-0.95,"hi":0.16},
      {"kind":"pt","var":"Temperature","lag":"Lag 3","region":"Nova Scotia","temp":6.55,"r":-0.13,"lo":-0.65,"hi":0.45},
      {"kind":"pt","var":"Temperature","lag":"Lag 3","region":"s Gulf St Lawrence","temp":7.71,"r":0.27,"lo":-0.23,"hi":0.66},
      {"kind":"pt","var":"Temperature","lag":"Lag 3","region":"Gulf of Maine","temp":8.13,"r":-0.14,"lo":-0.54,"hi":0.28},
      {"kind":"pt","var":"Temperature","lag":"Lag 3","region":"Georges Bank","temp":9.29,"r":0.09,"lo":-0.41,"hi":0.55},
      {"kind":"pt","var":"Temperature","lag":"Lag 3","region":"Massachusetts","temp":11.55,"r":-0.28,"lo":-0.67,"hi":0.20},
      {"kind":"pt","var":"Temperature","lag":"Lag 3","region":"Rhode Island","temp":13.39,"r":0.03,"lo":-0.43,"hi":0.48},
      {"kind":"pt","var":"Temperature","lag":"Lag 3","region":"Connecticut","temp":14.5,"r":-0.48,"lo":-0.88,"hi":0.29},
      {"kind":"pt","var":"Temperature","lag":"Lag 3","region":"s New England","temp":15.05,"r":0.06,"lo":-0.27,"hi":0.45},

      {"kind":"pt","var":"Predators","lag":"Lag 4","region":"Newfoundland","temp":4.68,"r":-0.59,"lo":-0.91,"hi":0.12},
      {"kind":"pt","var":"Predators","lag":"Lag 4","region":"Nova Scotia","temp":6.55,"r":-0.68,"lo":-1.0,"hi":0.37},
      {"kind":"pt","var":"Predators","lag":"Lag 4","region":"s Gulf St Lawrence","temp":7.71,"r":0.30,"lo":-0.35,"hi":0.76},
      {"kind":"pt","var":"Predators","lag":"Lag 4","region":"Gulf of Maine","temp":8.13,"r":-0.13,"lo":-0.51,"hi":0.28},
      {"kind":"pt","var":"Predators","lag":"Lag 4","region":"Georges Bank","temp":9.29,"r":0.26,"lo":-0.30,"hi":0.69},
      {"kind":"pt","var":"Predators","lag":"Lag 4","region":"Massachusetts","temp":11.55,"r":-0.28,"lo":-0.65,"hi":0.18},
      {"kind":"pt","var":"Predators","lag":"Lag 4","region":"Rhode Island","temp":13.39,"r":-0.09,"lo":-0.59,"hi":0.44},
      {"kind":"pt","var":"Predators","lag":"Lag 4","region":"Connecticut","temp":14.5,"r":-0.74,"lo":-1.0,"hi":0.35},
      {"kind":"pt","var":"Predators","lag":"Lag 4","region":"s New England","temp":15.05,"r":-0.39,"lo":-0.74,"hi":0.11},
      {"kind":"pt","var":"NAOI","lag":"Lag 4","region":"Newfoundland","temp":4.68,"r":-0.04,"lo":-0.65,"hi":0.59},
      {"kind":"pt","var":"NAOI","lag":"Lag 4","region":"Nova Scotia","temp":6.55,"r":0.09,"lo":-0.35,"hi":0.51},
      {"kind":"pt","var":"NAOI","lag":"Lag 4","region":"s Gulf St Lawrence","temp":7.71,"r":-0.03,"lo":-0.44,"hi":0.40},
      {"kind":"pt","var":"NAOI","lag":"Lag 4","region":"Gulf of Maine","temp":8.13,"r":0.01,"lo":-0.40,"hi":0.41},
      {"kind":"pt","var":"NAOI","lag":"Lag 4","region":"Georges Bank","temp":9.29,"r":-0.09,"lo":-0.49,"hi":0.33},
      {"kind":"pt","var":"NAOI","lag":"Lag 4","region":"Massachusetts","temp":11.55,"r":-0.04,"lo":-0.47,"hi":0.40},
      {"kind":"pt","var":"NAOI","lag":"Lag 4","region":"Rhode Island","temp":13.39,"r":0.29,"lo":-0.20,"hi":0.66},
      {"kind":"pt","var":"NAOI","lag":"Lag 4","region":"Connecticut","temp":14.5,"r":0.13,"lo":-0.60,"hi":0.74},
      {"kind":"pt","var":"NAOI","lag":"Lag 4","region":"s New England","temp":15.05,"r":0.40,"lo":-0.01,"hi":0.69},
      {"kind":"pt","var":"Temperature","lag":"Lag 4","region":"Newfoundland","temp":4.68,"r":-0.49,"lo":-0.92,"hi":0.43},
      {"kind":"pt","var":"Temperature","lag":"Lag 4","region":"Nova Scotia","temp":6.55,"r":-0.23,"lo":-0.71,"hi":0.40},
      {"kind":"pt","var":"Temperature","lag":"Lag 4","region":"s Gulf St Lawrence","temp":7.71,"r":0.15,"lo":-0.29,"hi":0.53},
      {"kind":"pt","var":"Temperature","lag":"Lag 4","region":"Gulf of Maine","temp":8.13,"r":-0.02,"lo":-0.47,"hi":0.43},
      {"kind":"pt","var":"Temperature","lag":"Lag 4","region":"Georges Bank","temp":9.29,"r":0.10,"lo":-0.37,"hi":0.53},
      {"kind":"pt","var":"Temperature","lag":"Lag 4","region":"Massachusetts","temp":11.55,"r":-0.12,"lo":-0.56,"hi":0.37},
      {"kind":"pt","var":"Temperature","lag":"Lag 4","region":"Rhode Island","temp":13.39,"r":0.23,"lo":-0.24,"hi":0.62},
      {"kind":"pt","var":"Temperature","lag":"Lag 4","region":"Connecticut","temp":14.5,"r":-0.45,"lo":-0.87,"hi":0.33},
      {"kind":"pt","var":"Temperature","lag":"Lag 4","region":"s New England","temp":15.05,"r":0.16,"lo":-0.30,"hi":0.56},

      {"kind":"pt","var":"Predators","lag":"Lag 5","region":"Newfoundland","temp":4.68,"r":-0.51,"lo":-0.88,"hi":0.17},
      {"kind":"pt","var":"Predators","lag":"Lag 5","region":"Nova Scotia","temp":6.55,"r":-0.66,"lo":-1.0,"hi":0.40},
      {"kind":"pt","var":"Predators","lag":"Lag 5","region":"s Gulf St Lawrence","temp":7.71,"r":0.30,"lo":-0.36,"hi":0.77},
      {"kind":"pt","var":"Predators","lag":"Lag 5","region":"Gulf of Maine","temp":8.13,"r":-0.09,"lo":-0.48,"hi":0.32},
      {"kind":"pt","var":"Predators","lag":"Lag 5","region":"Georges Bank","temp":9.29,"r":0.35,"lo":-0.24,"hi":0.76},
      {"kind":"pt","var":"Predators","lag":"Lag 5","region":"Massachusetts","temp":11.55,"r":-0.20,"lo":-0.60,"hi":0.24},
      {"kind":"pt","var":"Predators","lag":"Lag 5","region":"Rhode Island","temp":13.39,"r":-0.11,"lo":-0.63,"hi":0.45},
      {"kind":"pt","var":"Predators","lag":"Lag 5","region":"Connecticut","temp":14.5,"r":-0.66,"lo":-1.0,"hi":0.34},
      {"kind":"pt","var":"Predators","lag":"Lag 5","region":"s New England","temp":15.05,"r":-0.31,"lo":-0.70,"hi":0.22},
      {"kind":"pt","var":"NAOI","lag":"Lag 5","region":"Newfoundland","temp":4.68,"r":-0.02,"lo":-0.66,"hi":0.62},
      {"kind":"pt","var":"NAOI","lag":"Lag 5","region":"Nova Scotia","temp":6.55,"r":-0.01,"lo":-0.44,"hi":0.42},
      {"kind":"pt","var":"NAOI","lag":"Lag 5","region":"s Gulf St Lawrence","temp":7.71,"r":0.06,"lo":-0.38,"hi":0.45},
      {"kind":"pt","var":"NAOI","lag":"Lag 5","region":"Gulf of Maine","temp":8.13,"r":0.15,"lo":-0.31,"hi":0.53},
      {"kind":"pt","var":"NAOI","lag":"Lag 5","region":"Georges Bank","temp":9.29,"r":-0.06,"lo":-0.50,"hi":0.38},
      {"kind":"pt","var":"NAOI","lag":"Lag 5","region":"Massachusetts","temp":11.55,"r":0.14,"lo":-0.33,"hi":0.53},
      {"kind":"pt","var":"NAOI","lag":"Lag 5","region":"Rhode Island","temp":13.39,"r":0.08,"lo":-0.40,"hi":0.51},
      {"kind":"pt","var":"NAOI","lag":"Lag 5","region":"Connecticut","temp":14.5,"r":0.31,"lo":-0.47,"hi":0.81},
      {"kind":"pt","var":"NAOI","lag":"Lag 5","region":"s New England","temp":15.05,"r":0.53,"lo":0.14,"hi":0.78},
      {"kind":"pt","var":"Temperature","lag":"Lag 5","region":"Newfoundland","temp":4.68,"r":-0.36,"lo":-0.86,"hi":0.47},
      {"kind":"pt","var":"Temperature","lag":"Lag 5","region":"Nova Scotia","temp":6.55,"r":-0.30,"lo":-0.78,"hi":0.37},
      {"kind":"pt","var":"Temperature","lag":"Lag 5","region":"s Gulf St Lawrence","temp":7.71,"r":0.12,"lo":-0.31,"hi":0.51},
      {"kind":"pt","var":"Temperature","lag":"Lag 5","region":"Gulf of Maine","temp":8.13,"r":-0.02,"lo":-0.48,"hi":0.45},
      {"kind":"pt","var":"Temperature","lag":"Lag 5","region":"Georges Bank","temp":9.29,"r":-0.05,"lo":-0.49,"hi":0.40},
      {"kind":"pt","var":"Temperature","lag":"Lag 5","region":"Massachusetts","temp":11.55,"r":0.41,"lo":-0.08,"hi":0.73},
      {"kind":"pt","var":"Temperature","lag":"Lag 5","region":"Rhode Island","temp":13.39,"r":-0.03,"lo":-0.47,"hi":0.43},
      {"kind":"pt","var":"Temperature","lag":"Lag 5","region":"Connecticut","temp":14.5,"r":-0.79,"lo":-0.98,"hi":-0.19},
      {"kind":"pt","var":"Temperature","lag":"Lag 5","region":"s New England","temp":15.05,"r":0.19,"lo":-0.31,"hi":0.59},

      {"kind":"pt","var":"Predators","lag":"Lag 6","region":"Newfoundland","temp":4.68,"r":-0.26,"lo":-0.74,"hi":0.38},
      {"kind":"pt","var":"Predators","lag":"Lag 6","region":"Nova Scotia","temp":6.55,"r":-0.56,"lo":-0.96,"hi":0.48},
      {"kind":"pt","var":"Predators","lag":"Lag 6","region":"s Gulf St Lawrence","temp":7.71,"r":0.23,"lo":-0.45,"hi":0.74},
      {"kind":"pt","var":"Predators","lag":"Lag 6","region":"Gulf of Maine","temp":8.13,"r":-0.02,"lo":-0.42,"hi":0.38},
      {"kind":"pt","var":"Predators","lag":"Lag 6","region":"Georges Bank","temp":9.29,"r":0.35,"lo":-0.22,"hi":0.74},
      {"kind":"pt","var":"Predators","lag":"Lag 6","region":"Massachusetts","temp":11.55,"r":-0.32,"lo":-0.67,"hi":0.13},
      {"kind":"pt","var":"Predators","lag":"Lag 6","region":"Rhode Island","temp":13.39,"r":0.20,"lo":-0.42,"hi":0.68},
      {"kind":"pt","var":"Predators","lag":"Lag 6","region":"Connecticut","temp":14.5,"r":-0.69,"lo":-1.0,"hi":0.55},
      {"kind":"pt","var":"Predators","lag":"Lag 6","region":"s New England","temp":15.05,"r":-0.32,"lo":-0.71,"hi":0.22},
      {"kind":"pt","var":"NAOI","lag":"Lag 6","region":"Newfoundland","temp":4.68,"r":-0.18,"lo":-0.70,"hi":0.45},
      {"kind":"pt","var":"NAOI","lag":"Lag 6","region":"Nova Scotia","temp":6.55,"r":0.02,"lo":-0.41,"hi":0.44},
      {"kind":"pt","var":"NAOI","lag":"Lag 6","region":"s Gulf St Lawrence","temp":7.71,"r":0.13,"lo":-0.30,"hi":0.52},
      {"kind":"pt","var":"NAOI","lag":"Lag 6","region":"Gulf of Maine","temp":8.13,"r":0.15,"lo":-0.30,"hi":0.53},
      {"kind":"pt","var":"NAOI","lag":"Lag 6","region":"Georges Bank","temp":9.29,"r":-0.13,"lo":-0.53,"hi":0.31},
      {"kind":"pt","var":"NAOI","lag":"Lag 6","region":"Massachusetts","temp":11.55,"r":0.22,"lo":-0.23,"hi":0.60},
      {"kind":"pt","var":"NAOI","lag":"Lag 6","region":"Rhode Island","temp":13.39,"r":0.01,"lo":-0.45,"hi":0.45},
      {"kind":"pt","var":"NAOI","lag":"Lag 6","region":"Connecticut","temp":14.5,"r":0.45,"lo":-0.32,"hi":0.87},
      {"kind":"pt","var":"NAOI","lag":"Lag 6","region":"s New England","temp":15.05,"r":0.52,"lo":0.13,"hi":0.78},
      {"kind":"pt","var":"Temperature","lag":"Lag 6","region":"Newfoundland","temp":4.68,"r":-0.55,"lo":-0.90,"hi":0.15},
      {"kind":"pt","var":"Temperature","lag":"Lag 6","region":"Nova Scotia","temp":6.55,"r":-0.19,"lo":-0.72,"hi":0.47},
      {"kind":"pt","var":"Temperature","lag":"Lag 6","region":"s Gulf St Lawrence","temp":7.71,"r":0.28,"lo":-0.15,"hi":0.63},
      {"kind":"pt","var":"Temperature","lag":"Lag 6","region":"Gulf of Maine","temp":8.13,"r":-0.26,"lo":-0.65,"hi":0.22},
      {"kind":"pt","var":"Temperature","lag":"Lag 6","region":"Georges Bank","temp":9.29,"r":-0.15,"lo":-0.57,"hi":0.33},
      {"kind":"pt","var":"Temperature","lag":"Lag 6","region":"Massachusetts","temp":11.55,"r":-0.03,"lo":-0.51,"hi":0.45},
      {"kind":"pt","var":"Temperature","lag":"Lag 6","region":"Rhode Island","temp":13.39,"r":-0.10,"lo":-0.54,"hi":0.37},
      {"kind":"pt","var":"Temperature","lag":"Lag 6","region":"Connecticut","temp":14.5,"r":-0.62,"lo":-0.94,"hi":0.16},
      {"kind":"pt","var":"Temperature","lag":"Lag 6","region":"s New England","temp":15.05,"r":0.13,"lo":-0.33,"hi":0.54},

      {"kind":"pt","var":"Predators","lag":"Lag 7","region":"Newfoundland","temp":4.68,"r":-0.20,"lo":-0.70,"hi":0.44},
      {"kind":"pt","var":"Predators","lag":"Lag 7","region":"Nova Scotia","temp":6.55,"r":-0.53,"lo":-0.94,"hi":0.47},
      {"kind":"pt","var":"Predators","lag":"Lag 7","region":"s Gulf St Lawrence","temp":7.71,"r":0.35,"lo":-0.32,"hi":0.79},
      {"kind":"pt","var":"Predators","lag":"Lag 7","region":"Gulf of Maine","temp":8.13,"r":0.03,"lo":-0.37,"hi":0.43},
      {"kind":"pt","var":"Predators","lag":"Lag 7","region":"Georges Bank","temp":9.29,"r":0.26,"lo":-0.32,"hi":0.70},
      {"kind":"pt","var":"Predators","lag":"Lag 7","region":"Massachusetts","temp":11.55,"r":0.24,"lo":-0.21,"hi":0.60},
      {"kind":"pt","var":"Predators","lag":"Lag 7","region":"Rhode Island","temp":13.39,"r":0.29,"lo":-0.30,"hi":0.72},
      {"kind":"pt","var":"Predators","lag":"Lag 7","region":"Connecticut","temp":14.5,"r":-0.39,"lo":-0.93,"hi":0.66},
      {"kind":"pt","var":"Predators","lag":"Lag 7","region":"s New England","temp":15.05,"r":-0.29,"lo":-0.72,"hi":0.28},
      {"kind":"pt","var":"NAOI","lag":"Lag 7","region":"Newfoundland","temp":4.68,"r":-0.06,"lo":-0.69,"hi":0.62},
      {"kind":"pt","var":"NAOI","lag":"Lag 7","region":"Nova Scotia","temp":6.55,"r":0.20,"lo":-0.24,"hi":0.57},
      {"kind":"pt","var":"NAOI","lag":"Lag 7","region":"s Gulf St Lawrence","temp":7.71,"r":0.20,"lo":-0.30,"hi":0.60},
      {"kind":"pt","var":"NAOI","lag":"Lag 7","region":"Gulf of Maine","temp":8.13,"r":0.20,"lo":-0.22,"hi":0.55},
      {"kind":"pt","var":"NAOI","lag":"Lag 7","region":"Georges Bank","temp":9.29,"r":-0.10,"lo":-0.52,"hi":0.33},
      {"kind":"pt","var":"NAOI","lag":"Lag 7","region":"Massachusetts","temp":11.55,"r":0.36,"lo":-0.08,"hi":0.69},
      {"kind":"pt","var":"NAOI","lag":"Lag 7","region":"Rhode Island","temp":13.39,"r":0.36,"lo":-0.11,"hi":0.71},
      {"kind":"pt","var":"NAOI","lag":"Lag 7","region":"Connecticut","temp":14.5,"r":0.40,"lo":-0.41,"hi":0.86},
      {"kind":"pt","var":"NAOI","lag":"Lag 7","region":"s New England","temp":15.05,"r":0.40,"lo":-0.04,"hi":0.71},
      {"kind":"pt","var":"Temperature","lag":"Lag 7","region":"Newfoundland","temp":4.68,"r":-0.36,"lo":-0.80,"hi":0.32},
      {"kind":"pt","var":"Temperature","lag":"Lag 7","region":"Nova Scotia","temp":6.55,"r":-0.09,"lo":-0.63,"hi":0.51},
      {"kind":"pt","var":"Temperature","lag":"Lag 7","region":"s Gulf St Lawrence","temp":7.71,"r":0.29,"lo":-0.09,"hi":0.63},
      {"kind":"pt","var":"Temperature","lag":"Lag 7","region":"Gulf of Maine","temp":8.13,"r":-0.33,"lo":-0.68,"hi":0.13},
      {"kind":"pt","var":"Temperature","lag":"Lag 7","region":"Georges Bank","temp":9.29,"r":-0.20,"lo":-0.61,"hi":0.29},
      {"kind":"pt","var":"Temperature","lag":"Lag 7","region":"Massachusetts","temp":11.55,"r":0.02,"lo":-0.45,"hi":0.48},
      {"kind":"pt","var":"Temperature","lag":"Lag 7","region":"Rhode Island","temp":13.39,"r":-0.30,"lo":-0.66,"hi":0.17},
      {"kind":"pt","var":"Temperature","lag":"Lag 7","region":"Connecticut","temp":14.5,"r":-0.39,"lo":-0.84,"hi":0.40},
      {"kind":"pt","var":"Temperature","lag":"Lag 7","region":"s New England","temp":15.05,"r":0.05,"lo":-0.36,"hi":0.45},

      {"kind":"pt","var":"Predators","lag":"Lag 8","region":"Newfoundland","temp":4.68,"r":0.04,"lo":-0.56,"hi":0.62},
      {"kind":"pt","var":"Predators","lag":"Lag 8","region":"Nova Scotia","temp":6.55,"r":-0.56,"lo":-0.95,"hi":0.37},
      {"kind":"pt","var":"Predators","lag":"Lag 8","region":"s Gulf St Lawrence","temp":7.71,"r":0.48,"lo":-0.18,"hi":0.85},
      {"kind":"pt","var":"Predators","lag":"Lag 8","region":"Gulf of Maine","temp":8.13,"r":0.16,"lo":-0.26,"hi":0.53},
      {"kind":"pt","var":"Predators","lag":"Lag 8","region":"Georges Bank","temp":9.29,"r":0.25,"lo":-0.32,"hi":0.68},
      {"kind":"pt","var":"Predators","lag":"Lag 8","region":"Massachusetts","temp":11.55,"r":-0.21,"lo":-0.60,"hi":0.25},
      {"kind":"pt","var":"Predators","lag":"Lag 8","region":"Rhode Island","temp":13.39,"r":0.26,"lo":-0.34,"hi":0.72},
      {"kind":"pt","var":"Predators","lag":"Lag 8","region":"Connecticut","temp":14.5,"r":-0.08,"lo":-0.86,"hi":0.79},
      {"kind":"pt","var":"Predators","lag":"Lag 8","region":"s New England","temp":15.05,"r":-0.19,"lo":-0.65,"hi":0.36},
      {"kind":"pt","var":"NAOI","lag":"Lag 8","region":"Newfoundland","temp":4.68,"r":0.45,"lo":-0.26,"hi":0.87},
      {"kind":"pt","var":"NAOI","lag":"Lag 8","region":"Nova Scotia","temp":6.55,"r":0.52,"lo":-0.03,"hi":0.84},
      {"kind":"pt","var":"NAOI","lag":"Lag 8","region":"s Gulf St Lawrence","temp":7.71,"r":0.10,"lo":-0.41,"hi":0.56},
      {"kind":"pt","var":"NAOI","lag":"Lag 8","region":"Gulf of Maine","temp":8.13,"r":0.17,"lo":-0.26,"hi":0.56},
      {"kind":"pt","var":"NAOI","lag":"Lag 8","region":"Georges Bank","temp":9.29,"r":-0.04,"lo":-0.48,"hi":0.41},
      {"kind":"pt","var":"NAOI","lag":"Lag 8","region":"Massachusetts","temp":11.55,"r":0.06,"lo":-0.39,"hi":0.48},
      {"kind":"pt","var":"NAOI","lag":"Lag 8","region":"Rhode Island","temp":13.39,"r":0.21,"lo":-0.29,"hi":0.60},
      {"kind":"pt","var":"NAOI","lag":"Lag 8","region":"Connecticut","temp":14.5,"r":0.26,"lo":-0.54,"hi":0.82},
      {"kind":"pt","var":"NAOI","lag":"Lag 8","region":"s New England","temp":15.05,"r":0.22,"lo":-0.26,"hi":0.61},
      {"kind":"pt","var":"Temperature","lag":"Lag 8","region":"Newfoundland","temp":4.68,"r":0.21,"lo":-0.46,"hi":0.72},
      {"kind":"pt","var":"Temperature","lag":"Lag 8","region":"Nova Scotia","temp":6.55,"r":-0.06,"lo":-0.61,"hi":0.51},
      {"kind":"pt","var":"Temperature","lag":"Lag 8","region":"s Gulf St Lawrence","temp":7.71,"r":0.19,"lo":-0.25,"hi":0.56},
      {"kind":"pt","var":"Temperature","lag":"Lag 8","region":"Gulf of Maine","temp":8.13,"r":-0.39,"lo":-0.78,"hi":0.16},
      {"kind":"pt","var":"Temperature","lag":"Lag 8","region":"Georges Bank","temp":9.29,"r":-0.28,"lo":-0.69,"hi":0.26},
      {"kind":"pt","var":"Temperature","lag":"Lag 8","region":"Massachusetts","temp":11.55,"r":-0.08,"lo":-0.54,"hi":0.41},
      {"kind":"pt","var":"Temperature","lag":"Lag 8","region":"Rhode Island","temp":13.39,"r":0.02,"lo":-0.46,"hi":0.47},
      {"kind":"pt","var":"Temperature","lag":"Lag 8","region":"Connecticut","temp":14.5,"r":0.19,"lo":-0.57,"hi":0.78},
      {"kind":"pt","var":"Temperature","lag":"Lag 8","region":"s New England","temp":15.05,"r":-0.09,"lo":-0.49,"hi":0.32}
    ]
  },
  "facet": {
    "column": {
      "field": "var",
      "type": "nominal",
      "sort": ["Predators", "NAOI", "Temperature"],
      "header": {
        "title": "Mean temperature (°C)", "titleOrient": "bottom", "titleFontSize": 19, "titleColor": "#333333",
        "titleFontWeight": "normal", "titlePadding": 3,
        "labelOrient": "top", "labelFontSize": 18, "labelColor": "#4D4D4D", "labelPadding": 8
      }
    },
    "row": {
      "field": "lag",
      "type": "nominal",
      "header": {
        "title": "Correlation", "titleOrient": "left", "titleFontSize": 19, "titleColor": "#333333",
        "titleFontWeight": "normal", "titlePadding": 8,
        "labelOrient": "right", "labelAngle": -90, "labelFontSize": 17, "labelColor": "#4D4D4D", "labelPadding": 3
      }
    }
  },
  "spacing": {"row": 0, "column": 0},
  "spec": {
    "width": 237.7,
    "height": 115.8,
    "layer": [
      {
        "transform": [{"filter": "datum.kind == 'fit'"}],
        "mark": {"type": "area", "color": "#DADADA", "interpolate": "natural", "clip": true},
        "encoding": {
          "x": {"field": "temp", "type": "quantitative", "title": null,
                "scale": {"domain": [3.34, 16.78], "nice": false, "zero": false},
                "axis": {"values": [4, 8, 12, 16]}},
          "y": {"field": "flo", "type": "quantitative", "title": null,
                "scale": {"domain": [-1, 1], "nice": false},
                "axis": {"values": [-1, -0.5, 0, 0.5, 1], "tickCount": 5, "labelOverlap": false,
                         "labelExpr": "datum.value == -1 ? '' : replace(format(datum.value, '.1f'), '.', '·')"}},
          "y2": {"field": "fhi"}
        }
      },
      {
        "transform": [{"filter": "datum.kind == 'fit' && datum.temp == 4"}],
        "mark": {"type": "rule", "color": "#8C8C8C", "strokeWidth": 2, "strokeDash": [7, 5]},
        "encoding": {
          "y": {"datum": 0, "type": "quantitative", "title": null}
        }
      },
      {
        "transform": [{"filter": "datum.kind == 'fit'"}],
        "mark": {"type": "line", "color": "black", "strokeWidth": 2.4, "interpolate": "natural", "clip": true},
        "encoding": {
          "x": {"field": "temp", "type": "quantitative", "title": null},
          "y": {"field": "fit", "type": "quantitative", "title": null}
        }
      },
      {
        "transform": [{"filter": "datum.kind == 'pt'"}],
        "mark": {"type": "rule", "strokeWidth": 1.6, "clip": true},
        "encoding": {
          "x": {"field": "temp", "type": "quantitative", "title": null},
          "y": {"field": "lo", "type": "quantitative", "title": null},
          "y2": {"field": "hi"},
          "color": {"field": "region", "type": "nominal"}
        }
      },
      {
        "transform": [{"filter": "datum.kind == 'pt'"}],
        "mark": {"type": "point", "filled": true, "opacity": 1, "size": 42},
        "encoding": {
          "x": {"field": "temp", "type": "quantitative", "title": null},
          "y": {"field": "r", "type": "quantitative", "title": null},
          "color": {
            "field": "region",
            "type": "nominal",
            "scale": {
              "domain": ["Newfoundland", "Nova Scotia", "s Gulf St Lawrence", "Gulf of Maine", "Georges Bank", "Massachusetts", "Rhode Island", "Connecticut", "s New England"],
              "range": ["#B46FEA", "#1F93F0", "#00ABDD", "#00B09C", "#00A84C", "#5C9E0A", "#A69800", "#D67E00", "#EB5E6E"]
            },
            "legend": {
              "title": null,
              "orient": "none",
              "legendX": 146,
              "legendY": 1114,
              "columns": 2,
              "symbolType": "M-1.6,-0.08L1.6,-0.08L1.6,0.08L-1.6,0.08Z M-0.3,0A0.3,0.3 0 1,1 0.3,0A0.3,0.3 0 1,1 -0.3,0Z",
              "symbolSize": 400,
              "symbolStrokeWidth": 0,
              "symbolOpacity": 1,
              "labelFontSize": 15,
              "labelColor": "#4D4D4D",
              "labelOffset": 22,
              "rowPadding": 3.5,
              "columnPadding": 54
            }
          }
        }
      },
      {
        "transform": [{"filter": "datum.kind == 'star'"}],
        "mark": {"type": "text", "text": "*", "fontSize": 22, "color": "#333333", "baseline": "top", "align": "center"},
        "encoding": {
          "x": {"datum": 4.07, "type": "quantitative"},
          "y": {"datum": 0.97, "type": "quantitative"}
        }
      }
    ]
  },
  "config": {
    "font": "Liberation Sans",
    "view": {"stroke": "#707070", "strokeWidth": 1.3},
    "axis": {
      "grid": false,
      "domain": false,
      "tickColor": "#707070",
      "tickSize": -4,
      "tickWidth": 1.2,
      "labelColor": "#4D4D4D",
      "labelFontSize": 14,
      "titleFontWeight": "normal"
    },
    "axisX": {"labelPadding": 12},
    "axisY": {"tickCount": 5, "labelPadding": 9}
  }
}
